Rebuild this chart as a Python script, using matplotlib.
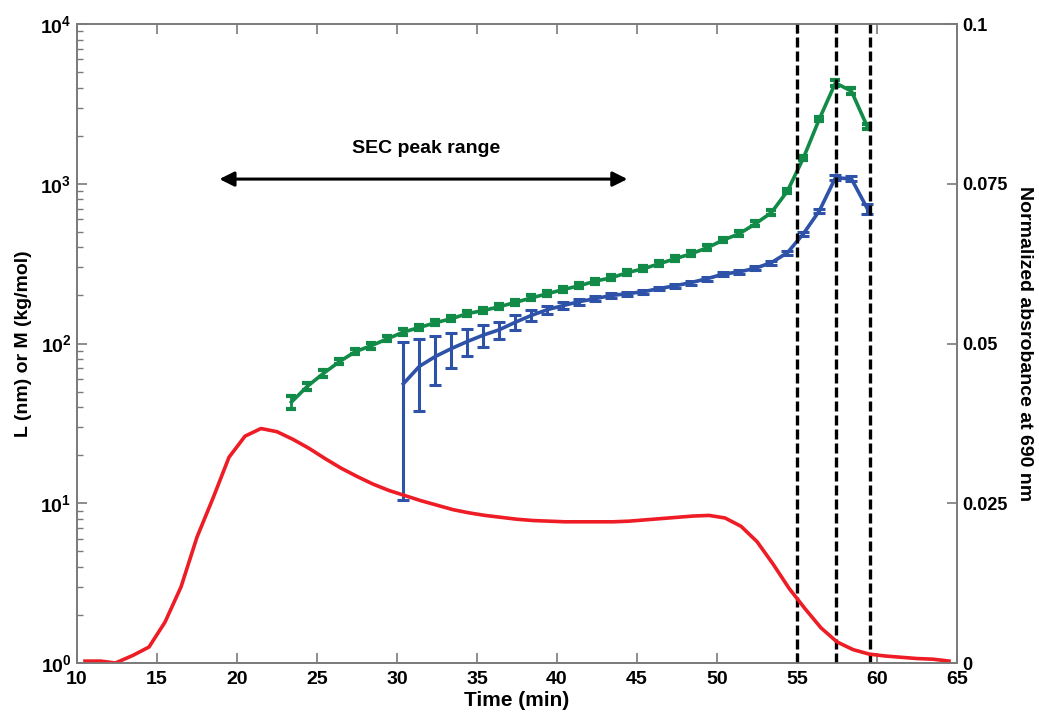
import matplotlib
matplotlib.use('Agg')
import matplotlib.pyplot as plt
from matplotlib.ticker import FixedLocator, FixedFormatter, LogLocator, NullFormatter

plt.rcParams['font.family'] = ['Liberation Sans', 'DejaVu Sans']
plt.rcParams['font.weight'] = 'bold'
plt.rcParams['mathtext.fontset'] = 'custom'
plt.rcParams['mathtext.rm'] = 'Liberation Sans:bold'
plt.rcParams['mathtext.bf'] = 'Liberation Sans:bold'

# green series (upper curve)
green_t = [23.4, 24.4, 25.4, 26.4, 27.4, 28.4, 29.4, 30.4, 31.4, 32.4, 33.4, 34.4,
           35.4, 36.4, 37.4, 38.4, 39.4, 40.4, 41.4, 42.4, 43.4, 44.4, 45.4, 46.4,
           47.4, 48.4, 49.4, 50.4, 51.4, 52.4, 53.4, 54.4, 55.4, 56.4, 57.4, 58.4, 59.4]
green_val = [43, 54, 65, 77, 89, 97, 107, 118, 126, 135, 143, 154,
             161, 170, 181, 193, 205, 218, 230, 246, 258, 278, 294, 316,
             340, 365, 398, 445, 487, 562, 660, 900, 1450, 2550, 4280, 3800, 2270]
green_err = [4, 3, 3, 3, 3, 4, 4, 5, 5, 5, 5, 6,
             6, 6, 7, 7, 8, 8, 8, 9, 9, 10, 10, 11,
             12, 13, 14, 15, 17, 19, 22, 30, 45, 80, 190, 170, 80]

# blue series (lower curve)
blue_t = [30.4, 31.4, 32.4, 33.4, 34.4, 35.4, 36.4, 37.4, 38.4, 39.4, 40.4, 41.4,
          42.4, 43.4, 44.4, 45.4, 46.4, 47.4, 48.4, 49.4, 50.4, 51.4, 52.4, 53.4,
          54.4, 55.4, 56.4, 57.4, 58.4, 59.4]
blue_val = [56, 72, 83, 93, 103, 113, 122, 136, 150, 163, 173, 183,
            191, 200, 205, 211, 221, 230, 241, 255, 272, 281, 296, 321,
            370, 487, 678, 1090, 1074, 698]
blue_err = [45.5, 34, 28, 23, 20, 18, 15, 14, 11, 9, 8, 8,
            7, 7, 6, 6, 6, 6, 7, 7, 7, 8, 8, 9,
            11, 14, 20, 40, 40, 50]

# absorbance trace (right axis)
abs_t = [10.5, 11.5, 12.4, 13.5, 14.5, 15.5, 16.5, 17.5, 18.5, 19.5, 20.5, 21.5,
         22.5, 23.5, 24.5, 25.5, 26.5, 27.5, 28.5, 29.5, 30.5, 31.5, 32.5, 33.5,
         34.5, 35.5, 36.5, 37.5, 38.5, 39.5, 40.5, 41.5, 42.5, 43.5, 44.5, 45.5,
         46.5, 47.5, 48.5, 49.5, 50.5, 51.5, 52.5, 53.5, 54.5, 55.5, 56.5, 57.5,
         58.5, 59.5, 60.5, 61.5, 62.5, 63.5, 64.5]
abs_val = [0.0003, 0.0003, 0.0, 0.0012, 0.0025, 0.0064, 0.0119, 0.0197, 0.0258, 0.0322, 0.0355, 0.0367,
           0.0362, 0.0350, 0.0336, 0.0320, 0.0305, 0.0292, 0.0280, 0.0270, 0.0262, 0.0254, 0.0247, 0.0240,
           0.0235, 0.0231, 0.0228, 0.0225, 0.0223, 0.0222, 0.0221, 0.0221, 0.0221, 0.0221, 0.0222, 0.0224,
           0.0226, 0.0228, 0.0230, 0.0231, 0.0227, 0.0214, 0.0190, 0.0155, 0.0117, 0.0085, 0.0055, 0.0033,
           0.0021, 0.0014, 0.0011, 0.0009, 0.0007, 0.0006, 0.0003]

dashed_t = [55.0, 57.45, 59.55]
arrow_t = [18.9, 44.4]
arrow_y = 1070

x_ticks = [10, 15, 20, 25, 30, 35, 40, 45, 50, 55, 60, 65]
y_ticks = [1, 10, 100, 1000, 10000]
y_labels = [r'$\mathbf{10^{0}}$', r'$\mathbf{10^{1}}$', r'$\mathbf{10^{2}}$',
            r'$\mathbf{10^{3}}$', r'$\mathbf{10^{4}}$']
r_ticks = [0, 0.025, 0.05, 0.075, 0.1]
r_labels = ['0', '0.025', '0.05', '0.075', '0.1']

green = '#128a48'
blue = '#2d52a8'
red = '#ee1c24'
spine = '#7a7a7a'

fig = plt.figure(figsize=(10.39, 7.15), dpi=100)
ax = fig.add_axes([0.0741, 0.0727, 0.8470, 0.8937])
ax2 = ax.twinx()

ax2.plot(abs_t, abs_val, color=red, lw=2.6, zorder=2)

ax.errorbar(green_t, green_val, yerr=green_err, color=green, lw=2.6,
            elinewidth=2, capsize=3.5, capthick=3, zorder=4)
ax.errorbar(blue_t, blue_val, yerr=blue_err, color=blue, lw=2.6,
            elinewidth=2.2, capsize=4, capthick=2.2, zorder=4)

for t in dashed_t:
    ax.axvline(t, color='black', lw=2.4, ls=(0, (3, 1.2)), zorder=5)

ax.annotate('', xy=(arrow_t[0], arrow_y), xytext=(arrow_t[1], arrow_y),
            arrowprops=dict(arrowstyle='<|-|>', color='black', lw=2.2,
                            mutation_scale=22, shrinkA=0, shrinkB=0))
ax.text(31.8, 1660, 'SEC peak range', ha='center', va='center',
        fontsize=14, fontweight='bold')

ax.set_xlim(10, 65)
ax.set_yscale('log')
ax.set_ylim(1, 10000)
ax2.set_ylim(0, 0.1)

ax.xaxis.set_major_locator(FixedLocator(x_ticks))
ax.set_xticklabels([str(v) for v in x_ticks])
ax.yaxis.set_major_locator(FixedLocator(y_ticks))
ax.yaxis.set_major_formatter(FixedFormatter(y_labels))
ax.yaxis.set_minor_locator(LogLocator(base=10, subs=range(2, 10)))
ax.yaxis.set_minor_formatter(NullFormatter())
ax2.yaxis.set_major_locator(FixedLocator(r_ticks))
ax2.yaxis.set_major_formatter(FixedFormatter(r_labels))

ax.tick_params(axis='x', which='both', direction='in', top=True, length=7,
               width=1.2, color=spine, labelsize=14, pad=6)
ax.tick_params(axis='y', which='major', direction='in', length=7, width=1.2,
               color=spine, labelsize=14, pad=4)
ax.tick_params(axis='y', which='minor', direction='in', length=4, width=1.0,
               color=spine)
ax2.tick_params(axis='y', direction='in', length=7, width=1.2, color=spine,
                labelsize=13, pad=4)

for a in (ax, ax2):
    for s in a.spines.values():
        s.set_color(spine)
        s.set_linewidth(1.2)

ax.set_xlabel('Time (min)', fontsize=15, fontweight='bold', labelpad=2)
ax.set_ylabel('L (nm) or M (kg/mol)', fontsize=14, fontweight='bold', labelpad=6)
ax2.set_ylabel('Normalized absrobance at 690 nm', fontsize=14, fontweight='bold',
               rotation=270, labelpad=18)

fig.savefig('out.png', dpi=100)
